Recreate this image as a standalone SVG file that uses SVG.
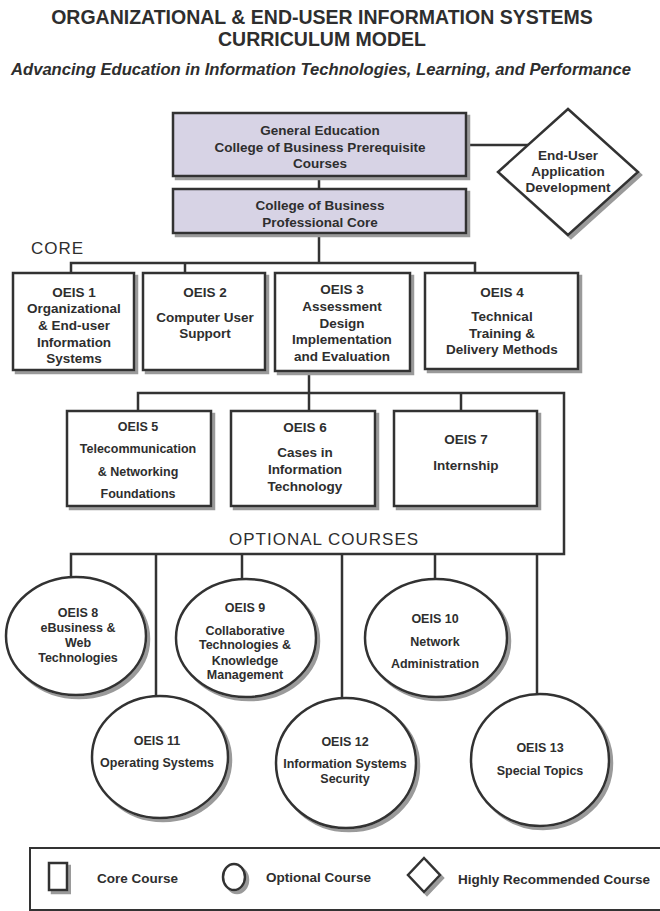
<svg xmlns="http://www.w3.org/2000/svg" width="660" height="911" viewBox="0 0 660 911">
<defs>
<filter id="sh" x="-10%" y="-10%" width="130%" height="130%">
<feDropShadow dx="3" dy="3" stdDeviation="0.6" flood-color="#9a9a9a" flood-opacity="1"/>
</filter>
<style>
text{font-family:"Liberation Sans",Arial,sans-serif;fill:#2e2e2e;text-anchor:middle;font-weight:bold}
.title{font-size:19.5px}
.sub{font-size:16.6px;font-style:italic}
.sec{font-size:17px;font-weight:normal;letter-spacing:1px;text-anchor:start}
.n{font-size:13.5px}
.s{font-size:12.5px}
.lg{font-size:13.5px;text-anchor:start}
.box{fill:#ffffff;stroke:#333;stroke-width:2.5;filter:url(#sh)}
.top{fill:#d7d3e5;stroke:#333;stroke-width:2.5;filter:url(#sh)}
.circ{fill:#ffffff;stroke:#333;stroke-width:2.5;filter:url(#sh)}
.con{fill:none;stroke:#333;stroke-width:2.5}
</style>
</defs>
<rect width="660" height="911" fill="#ffffff"/>
<g id="title">
<text class="title" x="322" y="24">ORGANIZATIONAL &amp; END-USER INFORMATION SYSTEMS</text>
<text class="title" x="322" y="46">CURRICULUM MODEL</text>
<text class="sub" x="321" y="75">Advancing Education in Information Technologies, Learning, and Performance</text>
</g>
<g id="connectors">
<line class="con" x1="319" y1="176" x2="319" y2="189"/>
<line class="con" x1="466" y1="145" x2="528" y2="145"/>
<polyline class="con" points="319,233 319,263"/>
<polyline class="con" points="71,273 71,263 475,263 475,273"/>
<line class="con" x1="185" y1="263" x2="185" y2="273"/>
<line class="con" x1="309" y1="371" x2="309" y2="411"/>
<polyline class="con" points="138,411 138,393 564,393 564,554 71,554 71,578"/>
<line class="con" x1="461" y1="393" x2="461" y2="411"/>
<line class="con" x1="156" y1="554" x2="156" y2="696"/>
<line class="con" x1="242" y1="554" x2="242" y2="580"/>
<line class="con" x1="342" y1="554" x2="342" y2="698"/>
<line class="con" x1="435" y1="554" x2="435" y2="580"/>
<line class="con" x1="537" y1="554" x2="537" y2="694"/>
</g>
<g id="gened">
<rect class="top" x="173" y="113" width="293" height="63"/>
<text class="n" x="320" y="135">General Education</text>
<text class="n" x="320" y="152">College of Business Prerequisite</text>
<text class="n" x="320" y="168">Courses</text>
</g>
<g id="profcore">
<rect class="top" x="173" y="189" width="293" height="44"/>
<text class="n" x="320" y="210">College of Business</text>
<text class="n" x="320" y="227">Professional Core</text>
</g>
<g id="enduser">
<polygon class="box" points="568,109 638,172 568,235 498,172"/>
<text class="n" x="568" y="160">End-User</text>
<text class="n" x="568" y="176">Application</text>
<text class="n" x="568" y="192">Development</text>
</g>
<text class="sec" x="31" y="254">CORE</text>
<g id="oeis1">
<rect class="box" x="13" y="273" width="121" height="97"/>
<text class="n" x="74" y="297">OEIS 1</text>
<text class="n" x="74" y="313">Organizational</text>
<text class="n" x="74" y="330">&amp; End-user</text>
<text class="n" x="74" y="347">Information</text>
<text class="n" x="74" y="363">Systems</text>
</g>
<g id="oeis2">
<rect class="box" x="143" y="273" width="122" height="97"/>
<text class="n" x="205" y="297">OEIS 2</text>
<text class="n" x="205" y="322">Computer User</text>
<text class="n" x="205" y="338">Support</text>
</g>
<g id="oeis3">
<rect class="box" x="275" y="273" width="135" height="98"/>
<text class="n" x="342" y="294">OEIS 3</text>
<text class="n" x="342" y="311">Assessment</text>
<text class="n" x="342" y="328">Design</text>
<text class="n" x="342" y="344">Implementation</text>
<text class="n" x="342" y="361">and Evaluation</text>
</g>
<g id="oeis4">
<rect class="box" x="425" y="273" width="153" height="96"/>
<text class="n" x="502" y="297">OEIS 4</text>
<text class="n" x="502" y="321">Technical</text>
<text class="n" x="502" y="338">Training &amp;</text>
<text class="n" x="502" y="354">Delivery Methods</text>
</g>
<g id="oeis5">
<rect class="box" x="67" y="411" width="144" height="95"/>
<text class="s" x="138" y="431">OEIS 5</text>
<text class="s" x="138" y="453">Telecommunication</text>
<text class="s" x="138" y="476">&amp; Networking</text>
<text class="s" x="138" y="498">Foundations</text>
</g>
<g id="oeis6">
<rect class="box" x="231" y="411" width="144" height="95"/>
<text class="n" x="305" y="432">OEIS 6</text>
<text class="n" x="305" y="457">Cases in</text>
<text class="n" x="305" y="474">Information</text>
<text class="n" x="305" y="491">Technology</text>
</g>
<g id="oeis7">
<rect class="box" x="394" y="411" width="143" height="95"/>
<text class="n" x="466" y="444">OEIS 7</text>
<text class="n" x="466" y="470">Internship</text>
</g>
<text class="sec" x="229" y="545">OPTIONAL COURSES</text>
<g id="oeis8">
<ellipse class="circ" cx="76" cy="636" rx="70" ry="59"/>
<text class="s" x="78" y="617">OEIS 8</text>
<text class="s" x="78" y="632">eBusiness &amp;</text>
<text class="s" x="78" y="647">Web</text>
<text class="s" x="78" y="662">Technologies</text>
</g>
<g id="oeis9">
<ellipse class="circ" cx="246" cy="638" rx="70" ry="59"/>
<text class="s" x="245" y="612">OEIS 9</text>
<text class="s" x="245" y="635">Collaborative</text>
<text class="s" x="245" y="649">Technologies &amp;</text>
<text class="s" x="245" y="665">Knowledge</text>
<text class="s" x="245" y="679">Management</text>
</g>
<g id="oeis10">
<ellipse class="circ" cx="436" cy="638" rx="71" ry="59"/>
<text class="s" x="435" y="623">OEIS 10</text>
<text class="s" x="435" y="646">Network</text>
<text class="s" x="435" y="668">Administration</text>
</g>
<g id="oeis11">
<ellipse class="circ" cx="160" cy="757" rx="68" ry="61"/>
<text class="s" x="157" y="745">OEIS 11</text>
<text class="s" x="157" y="767">Operating Systems</text>
</g>
<g id="oeis12">
<ellipse class="circ" cx="346" cy="763" rx="70" ry="65"/>
<text class="s" x="345" y="746">OEIS 12</text>
<text class="s" x="345" y="768">Information Systems</text>
<text class="s" x="345" y="783">Security</text>
</g>
<g id="oeis13">
<ellipse class="circ" cx="540" cy="760" rx="69" ry="66"/>
<text class="s" x="540" y="752">OEIS 13</text>
<text class="s" x="540" y="775">Special Topics</text>
</g>
<g id="legend">
<rect x="30" y="848" width="640" height="62" fill="none" stroke="#333" stroke-width="2"/>
<rect class="box" x="49" y="863" width="18" height="27" stroke-width="2"/>
<text class="lg" x="97" y="883">Core Course</text>
<ellipse class="circ" cx="234" cy="877" rx="11" ry="13" stroke-width="2"/>
<text class="lg" x="266" y="882">Optional Course</text>
<polygon class="box" points="424,858 440,875 424,892 408,875" stroke-width="2"/>
<text class="lg" x="458" y="884">Highly Recommended Course</text>
</g>
</svg>
